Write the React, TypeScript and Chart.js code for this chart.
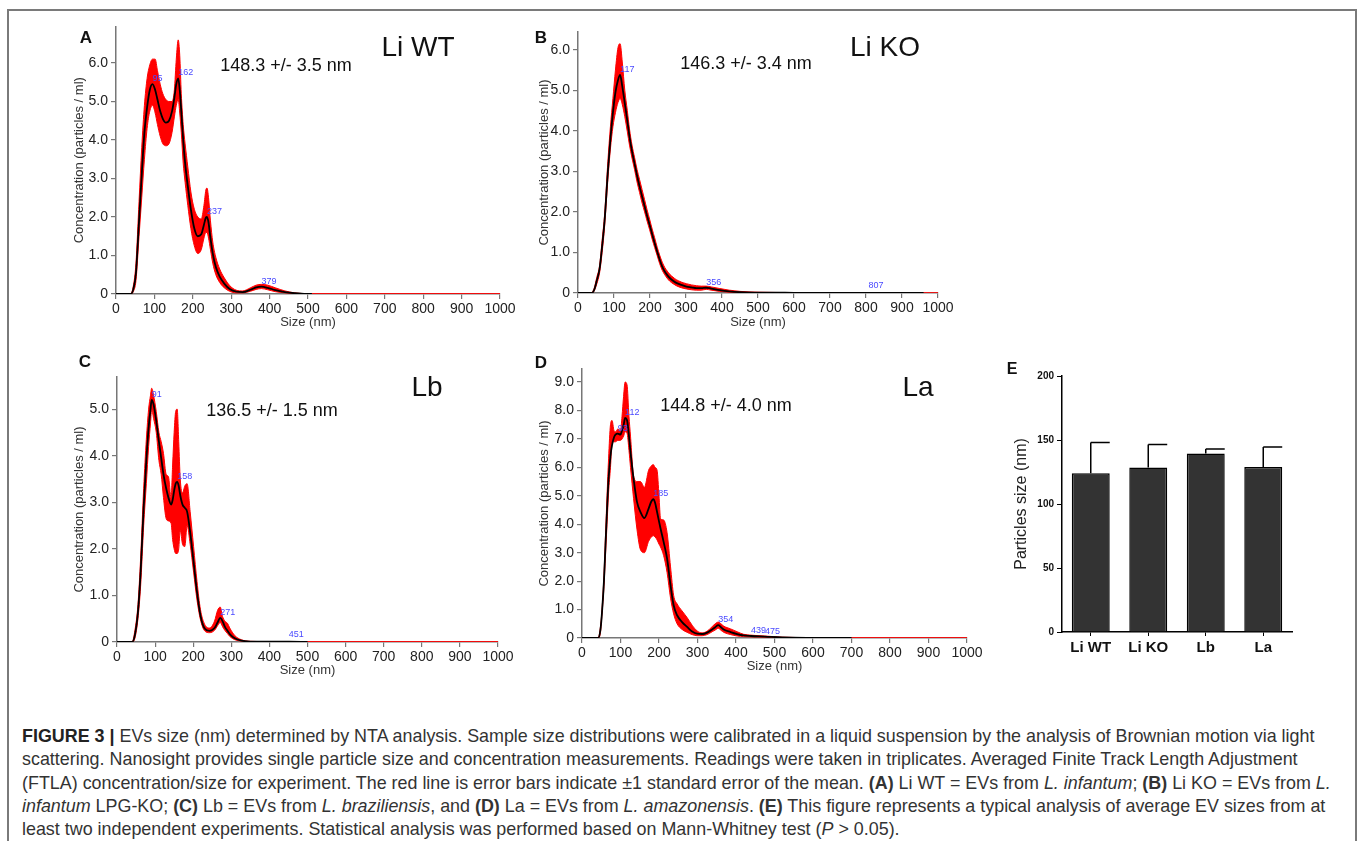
import React, { useEffect, useRef } from "react";
import { Chart, registerables } from "chart.js";
Chart.register(...registerables);

const FONT = '"Liberation Sans", Arial, Helvetica, sans-serif';
Chart.defaults.font.family = FONT;

// ---------- Panel A : Li WT ----------
const aSize = [0, 38, 45, 52, 60, 67, 74, 81, 88, 95, 102, 108, 115, 122, 130, 138, 146, 152, 157, 162, 166, 170, 175, 180, 187, 195, 204, 213, 222, 229, 234, 237, 241, 246, 252, 260, 270, 282, 296, 313, 330, 350, 365, 379, 395, 415, 440, 465, 490, 510, 1000];
const aMean = [0, 0, 0.12, 0.55, 1.9, 3.1, 4.2, 4.85, 5.3, 5.45, 5.3, 5.05, 4.75, 4.55, 4.45, 4.5, 4.75, 5.1, 5.45, 5.6, 5.3, 4.75, 4.0, 3.4, 2.8, 2.2, 1.7, 1.5, 1.55, 1.8, 1.98, 2.0, 1.85, 1.45, 1.05, 0.7, 0.45, 0.27, 0.13, 0.06, 0.05, 0.11, 0.17, 0.19, 0.16, 0.1, 0.05, 0.02, 0.005, 0, null];
const aUpper = [0, 0.01, 0.2, 0.8, 2.4, 3.8, 4.9, 5.6, 5.95, 6.1, 6.1, 5.8, 5.45, 5.2, 5.05, 5.0, 5.0, 5.3, 6.1, 6.6, 6.2, 5.2, 4.4, 3.9, 3.3, 2.65, 2.2, 2.0, 1.95, 2.3, 2.7, 2.75, 2.5, 1.9, 1.35, 0.95, 0.65, 0.42, 0.22, 0.1, 0.08, 0.16, 0.23, 0.25, 0.23, 0.16, 0.08, 0.03, 0.01, 0.005, 0.005];
const aLower = [0, 0, 0.06, 0.35, 1.5, 2.5, 3.5, 4.3, 4.75, 4.9, 4.7, 4.4, 4.1, 3.9, 3.85, 3.9, 4.2, 4.6, 4.9, 5.05, 4.7, 4.2, 3.4, 2.9, 2.3, 1.7, 1.25, 1.05, 1.15, 1.45, 1.6, 1.6, 1.45, 1.15, 0.8, 0.5, 0.3, 0.16, 0.07, 0.03, 0.03, 0.07, 0.12, 0.14, 0.11, 0.06, 0.03, 0.01, 0, 0, 0];
const aPeakSize = [95, 162, 237, 379];
const aPeakConc = [5.45, 5.6, 2.0, 0.19];

// ---------- Panel B : Li KO ----------
const bSize = [0, 38, 45, 52, 60, 67, 74, 83, 90, 97, 104, 111, 117, 123, 130, 137, 143, 150, 157, 164, 171, 178, 185, 192, 199, 206, 213, 220, 227, 234, 241, 248, 255, 264, 273, 287, 301, 315, 329, 343, 356, 370, 394, 420, 450, 500, 600, 700, 807, 900, 960, 1000];
const bMean = [0, 0, 0.08, 0.3, 0.6, 1.15, 1.8, 3.0, 3.8, 4.45, 4.95, 5.25, 5.38, 5.1, 4.68, 4.25, 3.86, 3.5, 3.2, 2.9, 2.63, 2.38, 2.14, 1.9, 1.68, 1.45, 1.23, 1.02, 0.82, 0.65, 0.53, 0.44, 0.37, 0.3, 0.25, 0.2, 0.16, 0.14, 0.12, 0.12, 0.13, 0.11, 0.07, 0.04, 0.02, 0.01, 0.005, 0.003, 0.004, 0.002, 0, null];
const bUpper = [0, 0.01, 0.12, 0.38, 0.68, 1.3, 1.95, 3.25, 4.1, 4.8, 5.5, 6.05, 6.15, 5.7, 5.0, 4.5, 4.05, 3.65, 3.35, 3.05, 2.8, 2.55, 2.3, 2.05, 1.82, 1.58, 1.36, 1.13, 0.93, 0.76, 0.63, 0.54, 0.46, 0.39, 0.33, 0.27, 0.23, 0.2, 0.18, 0.17, 0.17, 0.15, 0.11, 0.07, 0.04, 0.02, 0.01, 0.006, 0.008, 0.005, 0.003, 0.003];
const bLower = [0, 0, 0.05, 0.22, 0.5, 1.0, 1.65, 2.8, 3.55, 4.1, 4.45, 4.7, 4.8, 4.65, 4.35, 3.98, 3.65, 3.33, 3.05, 2.74, 2.48, 2.22, 2.0, 1.77, 1.56, 1.33, 1.12, 0.92, 0.72, 0.56, 0.45, 0.36, 0.29, 0.23, 0.18, 0.13, 0.1, 0.08, 0.07, 0.07, 0.09, 0.07, 0.04, 0.02, 0.01, 0.004, 0.002, 0.001, 0.001, 0, 0, 0];
const bPeakSize = [117, 356, 807];
const bPeakConc = [5.38, 0.13, 0.06];

// ---------- Panel C : Lb ----------
const cSize = [0, 40, 47, 55, 62, 70, 77, 83, 88, 91, 96, 103, 110, 116, 122, 129, 135, 142, 146, 150, 154, 158, 162, 166, 172, 178, 184, 192, 201, 210, 219, 230, 243, 256, 264, 271, 277, 283, 290, 296, 309, 326, 350, 400, 451, 500, 1000];
const cMean = [0, 0, 0.15, 0.64, 1.5, 2.9, 3.9, 4.6, 5.0, 5.2, 5.1, 4.75, 4.3, 3.95, 3.6, 3.3, 3.1, 2.95, 3.05, 3.25, 3.4, 3.44, 3.35, 3.15, 2.95, 2.88, 2.8, 2.36, 1.72, 1.07, 0.57, 0.29, 0.24, 0.3, 0.42, 0.52, 0.45, 0.33, 0.24, 0.17, 0.08, 0.03, 0.01, 0.005, 0.005, 0.002, null];
const cUpper = [0, 0.01, 0.25, 0.8, 1.8, 3.3, 4.35, 5.0, 5.3, 5.45, 5.3, 4.95, 4.5, 4.3, 4.05, 3.6, 3.55, 3.1, 3.8, 4.5, 4.95, 5.0, 4.3, 3.5, 3.2, 3.35, 3.4, 2.8, 2.05, 1.3, 0.7, 0.38, 0.3, 0.45, 0.68, 0.75, 0.55, 0.45, 0.4, 0.3, 0.14, 0.05, 0.015, 0.008, 0.008, 0.005, 0.005];
const cLower = [0, 0, 0.08, 0.5, 1.2, 2.5, 3.4, 4.2, 4.7, 5.0, 4.8, 4.5, 3.9, 3.6, 3.1, 2.65, 2.6, 2.55, 2.2, 2.0, 1.9, 1.9, 2.0, 2.4, 2.1, 2.05, 2.5, 2.1, 1.5, 0.9, 0.48, 0.24, 0.2, 0.25, 0.35, 0.42, 0.33, 0.25, 0.18, 0.12, 0.05, 0.02, 0.005, 0.002, 0.002, 0, 0];
const cPeakSize = [91, 158, 271, 451];
const cPeakConc = [5.2, 3.44, 0.52, 0.04];

// ---------- Panel D : La ----------
const dSize = [0, 42, 48, 52, 57, 61, 65, 69, 74, 78, 83, 87, 93, 100, 104, 108, 112, 117, 122, 126, 134, 143, 152, 162, 173, 180, 185, 190, 195, 200, 204, 212, 221, 230, 238, 247, 260, 273, 286, 299, 312, 325, 338, 346, 354, 361, 368, 386, 403, 420, 439, 475, 520, 600, 700, 1000];
const dMean = [0, 0, 0.3, 0.91, 2.0, 3.26, 4.5, 5.6, 6.4, 6.78, 7.05, 7.15, 7.19, 7.15, 7.3, 7.48, 7.74, 7.66, 7.1, 6.54, 5.6, 4.78, 4.43, 4.22, 4.55, 4.8, 4.88, 4.75, 4.43, 4.1, 3.85, 3.38, 2.79, 1.85, 1.15, 0.8, 0.56, 0.39, 0.23, 0.15, 0.14, 0.19, 0.3, 0.38, 0.45, 0.38, 0.3, 0.21, 0.14, 0.09, 0.07, 0.05, 0.02, 0.005, 0, null];
const dUpper = [0, 0.01, 0.4, 1.0, 2.2, 3.6, 5.0, 6.3, 7.5, 7.65, 7.3, 7.25, 7.35, 7.3, 7.8, 8.5, 9.0, 8.9, 7.8, 7.1, 5.7, 5.5, 5.5, 5.3, 5.9, 6.05, 6.1, 6.0, 5.9, 5.0, 4.2, 4.15, 3.7, 2.5, 1.5, 1.2, 0.95, 0.72, 0.45, 0.25, 0.18, 0.24, 0.4, 0.5, 0.56, 0.5, 0.42, 0.32, 0.22, 0.13, 0.1, 0.07, 0.03, 0.01, 0.005, 0.005];
const dLower = [0, 0, 0.2, 0.85, 1.8, 2.9, 4.0, 5.1, 6.0, 6.85, 6.9, 6.9, 6.95, 6.95, 7.0, 7.1, 7.25, 7.2, 6.6, 6.0, 4.9, 3.8, 3.1, 3.0, 3.4, 3.55, 3.6, 3.55, 3.45, 3.3, 3.2, 2.9, 2.3, 1.4, 0.85, 0.5, 0.3, 0.2, 0.12, 0.08, 0.08, 0.12, 0.22, 0.28, 0.34, 0.27, 0.2, 0.12, 0.07, 0.05, 0.04, 0.03, 0.01, 0, 0, 0];
const dPeakSize = [93, 112, 185, 354, 439, 475];
const dPeakConc = [7.19, 7.74, 4.88, 0.45, 0.07, 0.05];

// ---------- Panel E : mean EV size ----------
const eGroups = ["Li WT", "Li KO", "Lb", "La"];
const eMean = [124, 128.5, 139.5, 129];
const eSem = [24, 18, 3.5, 15.5];

type Box = { x: number; y: number; w: number; h: number };

type NtaProps = {
  size: number[];
  mean: (number | null)[];
  upper: number[];
  lower: number[];
  peakSize: number[];
  peakConc: number[];
  yMax: number;
  box: Box;
  yW: number;
  xH: number;
  padTop: number;
  padRight: number;
  yTitlePad: number;
  xTitlePad: number;
};

function NtaChart(p: NtaProps) {
  const ref = useRef<HTMLCanvasElement>(null);
  useEffect(() => {
    const peakPlugin = {
      id: "peakLabels",
      afterDatasetsDraw(chart: any) {
        const { ctx, scales } = chart;
        ctx.save();
        ctx.font = `9px ${FONT}`;
        ctx.fillStyle = "#4a4aff";
        ctx.textAlign = "left";
        ctx.textBaseline = "bottom";
        p.peakSize.forEach((s, i) => {
          ctx.fillText(String(s), scales.x.getPixelForValue(s), scales.y.getPixelForValue(p.peakConc[i]) - 1);
        });
        ctx.restore();
      },
    };
    const gridOpts = { display: true, drawOnChartArea: false, drawTicks: true, tickLength: 5, color: "#777", lineWidth: 1.2 };
    const ch = new Chart(ref.current as HTMLCanvasElement, {
      type: "line",
      data: {
        datasets: [
          {
            data: p.size.map((s, i) => ({ x: s, y: p.mean[i] })),
            borderColor: "#000",
            borderWidth: 1.8,
            pointRadius: 0,
            fill: false,
            cubicInterpolationMode: "monotone",
          },
          {
            data: p.size.map((s, i) => ({ x: s, y: p.upper[i] })),
            borderColor: "#ff0000",
            backgroundColor: "#ff0000",
            borderWidth: 1,
            pointRadius: 0,
            fill: "+1",
            cubicInterpolationMode: "monotone",
          },
          {
            data: p.size.map((s, i) => ({ x: s, y: p.lower[i] })),
            borderColor: "#ff0000",
            borderWidth: 1,
            pointRadius: 0,
            fill: false,
            cubicInterpolationMode: "monotone",
          },
        ],
      } as any,
      options: {
        animation: false,
        responsive: false,
        events: [],
        layout: { padding: { top: p.padTop, right: p.padRight, left: 0, bottom: 0 } },
        plugins: { legend: { display: false }, tooltip: { enabled: false } },
        scales: {
          x: {
            type: "linear",
            min: 0,
            max: 1000,
            ticks: {
              stepSize: 100,
              autoSkip: false,
              maxRotation: 0,
              color: "#222",
              font: { size: 14 },
              padding: 2,
              includeBounds: false,
              callback: (v: any) => String(Number(v)),
            },
            grid: gridOpts,
            border: { display: true, color: "#777", width: 1.5 },
            title: { display: true, text: "Size (nm)", color: "#333", font: { size: 13 }, padding: { top: 0, bottom: p.xTitlePad } },
            afterFit: (s: any) => {
              s.height = p.xH;
            },
          },
          y: {
            type: "linear",
            min: 0,
            max: p.yMax,
            ticks: {
              stepSize: 1,
              includeBounds: false,
              color: "#222",
              font: { size: 14 },
              padding: 3,
              callback: (v: any) => (Number(v) === 0 ? "0" : Number(v).toFixed(1)),
            },
            grid: gridOpts,
            border: { display: true, color: "#777", width: 1.5 },
            title: { display: true, text: "Concentration (particles / ml)", color: "#333", font: { size: 13 }, padding: { top: p.yTitlePad, bottom: 0 } },
            afterFit: (s: any) => {
              s.width = p.yW;
            },
          },
        },
      } as any,
      plugins: [peakPlugin],
    });
    return () => ch.destroy();
  }, []);
  return (
    <canvas
      ref={ref}
      width={p.box.w}
      height={p.box.h}
      style={{ position: "absolute", left: p.box.x, top: p.box.y, width: p.box.w, height: p.box.h }}
    />
  );
}

function BarChart() {
  const ref = useRef<HTMLCanvasElement>(null);
  useEffect(() => {
    const errPlugin = {
      id: "errBars",
      afterDatasetsDraw(chart: any) {
        const { ctx, scales } = chart;
        const meta = chart.getDatasetMeta(0);
        ctx.save();
        ctx.strokeStyle = "#000";
        ctx.lineWidth = 1.5;
        meta.data.forEach((bar: any, i: number) => {
          const base = scales.y.getPixelForValue(eMean[i]);
          const top = scales.y.getPixelForValue(eMean[i] + eSem[i]);
          const half = bar.width / 2;
          ctx.beginPath();
          ctx.moveTo(bar.x, base);
          ctx.lineTo(bar.x, top);
          ctx.moveTo(bar.x, top);
          ctx.lineTo(bar.x + half, top);
          ctx.stroke();
        });
        ctx.restore();
      },
    };
    const ch = new Chart(ref.current as HTMLCanvasElement, {
      type: "bar",
      data: {
        labels: eGroups,
        datasets: [
          {
            data: eMean,
            backgroundColor: "#333333",
            borderColor: "#000",
            borderWidth: 1.5,
            barPercentage: 0.66,
            categoryPercentage: 1,
          },
        ],
      },
      options: {
        animation: false,
        responsive: false,
        events: [],
        layout: { padding: { top: 16, right: 18, left: 0, bottom: 0 } },
        plugins: { legend: { display: false }, tooltip: { enabled: false } },
        scales: {
          x: {
            ticks: { color: "#111", font: { size: 15, weight: "bold" }, padding: 3 },
            grid: { display: true, drawOnChartArea: false, tickLength: 4, color: "#000", offset: false },
            border: { display: true, color: "#000", width: 1.5 },
            afterFit: (s: any) => {
              s.height = 48;
            },
          },
          y: {
            min: 0,
            max: 200,
            ticks: { stepSize: 50, color: "#111", font: { size: 10, weight: "bold" }, padding: 3 },
            grid: { display: true, drawOnChartArea: false, tickLength: 5, color: "#000" },
            border: { display: true, color: "#000", width: 1.5 },
            title: { display: true, text: "Particles size (nm)", color: "#222", font: { size: 16 }, padding: { top: 22, bottom: 0 } },
            afterFit: (s: any) => {
              s.width = 72;
            },
          },
        },
      } as any,
      plugins: [errPlugin],
    });
    return () => ch.destroy();
  }, []);
  return (
    <canvas ref={ref} width={320} height={320} style={{ position: "absolute", left: 990, top: 360, width: 320, height: 320 }} />
  );
}

function Txt(props: { x: number; y: number; size: number; bold?: boolean; children: React.ReactNode }) {
  return (
    <div
      style={{
        position: "absolute",
        left: props.x,
        top: props.y,
        transform: "translate(-50%, -50%)",
        fontSize: props.size,
        fontWeight: props.bold ? "bold" : "normal",
        lineHeight: 1,
        whiteSpace: "nowrap",
        color: "#111",
      }}
    >
      {props.children}
    </div>
  );
}

export default function App() {
  const capStyle: React.CSSProperties = {
    position: "absolute",
    left: 22,
    top: 725,
    fontSize: 17.9,
    lineHeight: "23.3px",
    color: "#333",
    whiteSpace: "nowrap",
  };
  return (
    <div
      style={{
        position: "fixed",
        left: 0,
        top: 0,
        width: 1360,
        height: 841,
        overflow: "hidden",
        background: "#fff",
        fontFamily: FONT,
      }}
    >
      <div
        style={{
          position: "absolute",
          left: 7,
          top: 9,
          width: 1350,
          height: 900,
          border: "2px solid #7a7a7a",
          boxSizing: "border-box",
        }}
      />
      <NtaChart size={aSize} mean={aMean} upper={aUpper} lower={aLower} peakSize={aPeakSize} peakConc={aPeakConc}
        yMax={6.95} box={{ x: 60, y: 15, w: 460, h: 325 }} yW={56} xH={46} padTop={10} padRight={20} yTitlePad={12} xTitlePad={10} />
      <NtaChart size={bSize} mean={bMean} upper={bUpper} lower={bLower} peakSize={bPeakSize} peakConc={bPeakConc}
        yMax={6.44} box={{ x: 520, y: 20, w: 440, h: 320 }} yW={58} xH={47} padTop={12} padRight={22} yTitlePad={17} xTitlePad={10} />
      <NtaChart size={cSize} mean={cMean} upper={cUpper} lower={cLower} peakSize={cPeakSize} peakConc={cPeakConc}
        yMax={5.69} box={{ x: 60, y: 360, w: 460, h: 330 }} yW={57} xH={48} padTop={17} padRight={22} yTitlePad={12} xTitlePad={12} />
      <NtaChart size={dSize} mean={dMean} upper={dUpper} lower={dLower} peakSize={dPeakSize} peakConc={dPeakConc}
        yMax={9.46} box={{ x: 520, y: 355, w: 470, h: 335 }} yW={62} xH={52} padTop={14} padRight={23} yTitlePad={17} xTitlePad={16} />
      <BarChart />

      <Txt x={86} y={37} size={17} bold>A</Txt>
      <Txt x={286} y={65} size={18}>148.3 +/- 3.5 nm</Txt>
      <Txt x={418} y={47} size={28}>Li WT</Txt>

      <Txt x={541} y={37} size={17} bold>B</Txt>
      <Txt x={746} y={63} size={18}>146.3 +/- 3.4 nm</Txt>
      <Txt x={885} y={47} size={28}>Li KO</Txt>

      <Txt x={85} y={361} size={17} bold>C</Txt>
      <Txt x={272} y={410} size={18}>136.5 +/- 1.5 nm</Txt>
      <Txt x={427} y={387} size={28}>Lb</Txt>

      <Txt x={541} y={362} size={17} bold>D</Txt>
      <Txt x={726} y={405} size={18}>144.8 +/- 4.0 nm</Txt>
      <Txt x={918} y={387} size={28}>La</Txt>

      <Txt x={1012} y={369} size={16} bold>E</Txt>

      <div style={capStyle}>
        <b style={{ color: "#222" }}>FIGURE 3 |</b> EVs size (nm) determined by NTA analysis. Sample size distributions were calibrated in a liquid suspension by the analysis of Brownian motion via light
        <br />
        scattering. Nanosight provides single particle size and concentration measurements. Readings were taken in triplicates. Averaged Finite Track Length Adjustment
        <br />
        (FTLA) concentration/size for experiment. The red line is error bars indicate ±1 standard error of the mean. <b>(A)</b> Li WT = EVs from <i>L. infantum</i>; <b>(B)</b> Li KO = EVs from <i>L.</i>
        <br />
        <i>infantum</i> LPG-KO; <b>(C)</b> Lb = EVs from <i>L. braziliensis</i>, and <b>(D)</b> La = EVs from <i>L. amazonensis</i>. <b>(E)</b> This figure represents a typical analysis of average EV sizes from at
        <br />
        least two independent experiments. Statistical analysis was performed based on Mann-Whitney test (<i>P</i> &gt; 0.05).
      </div>
    </div>
  );
}
